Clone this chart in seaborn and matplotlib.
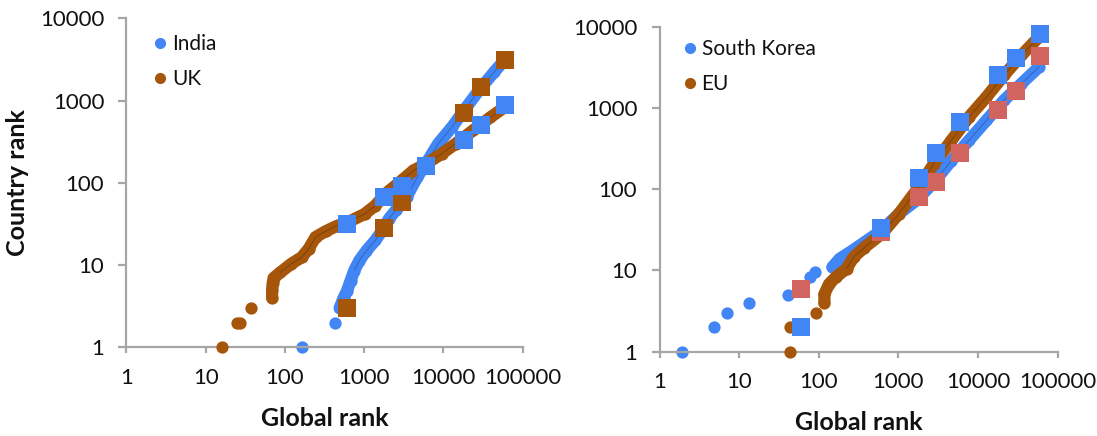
import numpy as np
import pandas as pd
import matplotlib.pyplot as plt
import seaborn as sns
from matplotlib.ticker import FixedLocator, NullLocator


#Left panel: India and UK sites, global rank vs country rank

india_global = [166, 427, 490, 550, 610, 675, 750, 870, 1070, 1380, 1700, 2070, 2530, 3450,
                4700, 6000, 8600, 12900, 19500, 29200, 43800, 59000]
india_country = [1, 2, 3, 4, 4.9, 6.5, 8.6, 11.4, 15, 20, 26.5, 37, 47, 68,
                 118, 170, 300, 480, 830, 1400, 2230, 3100]

uk_global = [16, 25, 27, 37, 69, 69, 70, 72, 88, 120, 163, 200, 244, 330, 450, 610, 1015,
             1380, 1870, 2800, 4200, 6000, 9500, 14300, 23800, 39400, 59000]
uk_country = [1, 2, 2, 3, 4, 5, 6, 7, 8.2, 10.4, 12.5, 15.9, 22, 26, 30, 33, 42,
              53, 74, 102, 142, 170, 226, 300, 437, 630, 830]

left_sq_global = [600, 1800, 3000, 6000, 18000, 30000, 60000]
left_sq_blue = [32, 68, 93, 160, 330, 510, 900]
left_sq_brown = [3, 28, 58, 160, 700, 1450, 3100]


#Right panel: South Korea and EU

sk_global = [1.9, 4.8, 7, 13.5, 41, 60, 77, 90, 149, 183, 248, 371, 615, 1020, 1690,
             2800, 4650, 7700, 12800, 21200, 35100, 58200]
sk_country = [1, 2, 3, 4, 5, 6.5, 8.3, 9.5, 11, 13.9, 16.8, 22, 31, 50, 73,
              122, 226, 400, 705, 1245, 2000, 3200]

eu_global = [44, 44, 92, 118, 118, 135, 165, 224, 274, 371, 615, 1020, 1690, 2800,
             4650, 7700, 12800, 21200, 35100, 58200]
eu_country = [1, 2, 3, 4, 5.1, 6.8, 8.3, 10.5, 14.5, 19, 28, 50, 97, 206,
              400, 776, 1370, 2530, 4460, 7500]

right_sq_global = [60, 600, 1800, 3000, 6000, 18000, 30000, 60000]
right_sq_blue = [2, 33, 137, 279, 672, 2530, 4180, 8270]
right_sq_pink = [5.9, 30, 80, 122, 279, 937, 1620, 4340]

ticks_x = [1, 10, 100, 1000, 10000, 100000]
ticks_y = [1, 10, 100, 1000, 10000]

BLUE = '#4285f4'
BROWN = '#a6560a'
PINK = '#d2645f'
GREY = '#a6a6a6'
TEXT = '#111111'

sns.set_style("white")
plt.rcParams['font.family'] = ['Lato', 'DejaVu Sans']


def draw_panel(ax, series, sq_global, sq_list, leg_anchor):
    ax.set_xscale('log')
    ax.set_yscale('log')
    z = 2
    for name, g, c, col, start in series:
        # dense part of the curve: many overlapping sites, drawn as a band
        sns.lineplot(x=g[start:], y=c[start:], ax=ax, color=col, lw=8.8, estimator=None,
                     sort=False, legend=False, solid_capstyle='round', zorder=z)
        sns.scatterplot(x=g, y=c, ax=ax, color=col, s=78, linewidth=0, clip_on=False,
                        zorder=z + 0.1, legend=False)
        dark = tuple(0.55 * v for v in plt.matplotlib.colors.to_rgb(col))
        sns.lineplot(x=g[start + 4:], y=c[start + 4:], ax=ax, color=dark, lw=0.6, alpha=0.6,
                     estimator=None, sort=False, legend=False, zorder=z + 0.2)
        z += 1
    for vals, col in sq_list:
        sns.scatterplot(x=sq_global, y=vals, ax=ax, color=col, marker='s', s=150,
                        linewidth=0, clip_on=False, zorder=z, legend=False)
        z += 1
    # legend entries for the two countries only
    handles = [plt.Line2D([], [], ls='', marker='o', ms=7, color=s[3]) for s in series]
    ax.legend(handles, [s[0] for s in series], loc='upper left', frameon=False,
              fontsize=15, handletextpad=0.17, labelspacing=0.7, borderaxespad=0,
              borderpad=0, handlelength=0.8, bbox_to_anchor=leg_anchor, labelcolor=TEXT)

    ax.set_xlim(1, 100000)
    ax.set_ylim(1, 10000)
    ax.xaxis.set_major_locator(FixedLocator(ticks_x))
    ax.yaxis.set_major_locator(FixedLocator(ticks_y))
    ax.xaxis.set_minor_locator(NullLocator())
    ax.yaxis.set_minor_locator(NullLocator())
    ax.set_xticklabels([str(t) for t in ticks_x])
    ax.set_yticklabels([str(t) for t in ticks_y])
    sns.despine(ax=ax)
    for sp in ['left', 'bottom']:
        ax.spines[sp].set_color(GREY)
        ax.spines[sp].set_linewidth(1.6)
    ax.tick_params(axis='y', direction='out', length=6, width=1.6, color=GREY, pad=10,
                   labelsize=16, labelcolor=TEXT, left=True)
    ax.tick_params(axis='x', direction='out', length=4.5, width=1.6, color=GREY, pad=10,
                   labelsize=16, labelcolor=TEXT, bottom=True)
    ax.set_xlabel('Global rank', fontsize=18, fontweight='bold', color=TEXT, labelpad=14)
    ax.set_ylabel('')


fig = plt.figure(figsize=(10.97, 4.36), dpi=100)
ax1 = fig.add_axes([0.1153, 0.2030, 0.3610, 0.7546])
ax2 = fig.add_axes([0.6012, 0.1938, 0.3628, 0.7443])

draw_panel(ax1, [('India', india_global, india_country, BLUE, 2),
                 ('UK', uk_global, uk_country, BROWN, 4)],
           left_sq_global, [(left_sq_brown, BROWN), (left_sq_blue, BLUE)], (0.064, 0.952))
ax1.set_ylabel('Country rank', fontsize=18, fontweight='bold', color=TEXT)
ax1.yaxis.set_label_coords(-0.245, 0.5)

draw_panel(ax2, [('South Korea', sk_global, sk_country, BLUE, 8),
                 ('EU', eu_global, eu_country, BROWN, 3)],
           right_sq_global, [(right_sq_pink, PINK), (right_sq_blue, BLUE)], (0.055, 0.962))

fig.savefig('out.png', dpi=100)
